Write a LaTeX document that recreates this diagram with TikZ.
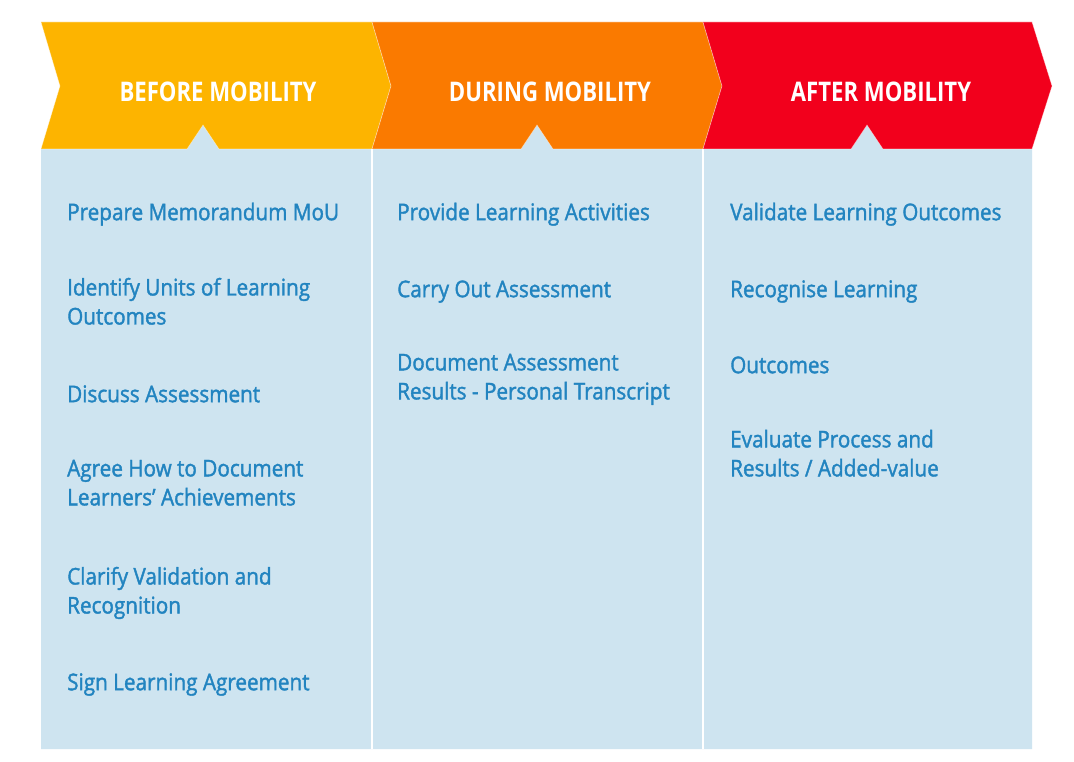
\documentclass[tikz,border=0pt]{standalone}
\usepackage{fontspec}
\setmainfont{Open Sans}[FakeStretch=0.9,FakeBold=1.6]
\newfontfamily\headfont{Open Sans}[FakeStretch=0.82]

\definecolor{beforecol}{HTML}{FDB400}
\definecolor{duringcol}{HTML}{FA7A00}
\definecolor{aftercol}{HTML}{F2001C}
\definecolor{bodycol}{HTML}{CEE4F0}
\definecolor{itemcol}{HTML}{2284C0}

\tikzset{
  banner/.style={draw=white, draw opacity=0.45, line width=0.6pt},
  heading/.style={anchor=base, inner sep=0pt, text=white,
    font=\headfont\bfseries\fontsize{27}{30}\selectfont},
  item/.style={anchor=north west, align=left, inner sep=0pt, text=itemcol,
    font=\fontsize{23}{29}\selectfont, execute at begin node=\strut},
}

\begin{document}
\begin{tikzpicture}[%
      x=1pt, y=-1pt,
      ]
      \useasboundingbox (0,0) rectangle (1074,762);
      \fill [white] (0,0) rectangle (1074,762);

      % body of the three columns, with the notches under the banners
      \fill [bodycol] (41,149) -- (187,149) -- (203,125) -- (219,149)
        -- (521,149) -- (537,125) -- (553,149)
        -- (851,149) -- (867,125) -- (883,149)
        -- (1032,149) -- (1032,749) -- (41,749) -- cycle;
      \draw [white, line width=1.5pt] (372,149) -- (372,749);
      \draw [white, line width=1.5pt] (703,149) -- (703,749);

      % banners
      \filldraw [banner, fill=beforecol] (41,22) -- (372,22) -- (391,86) -- (372,149)
        -- (219,149) -- (203,125) -- (187,149) -- (41,149) -- (60,86) -- cycle;
      \filldraw [banner, fill=duringcol] (372,22) -- (703,22) -- (722,86) -- (703,149)
        -- (553,149) -- (537,125) -- (521,149) -- (372,149) -- (391,86) -- cycle;
      \filldraw [banner, fill=aftercol] (703,22) -- (1032,22) -- (1052,86) -- (1032,149)
        -- (883,149) -- (867,125) -- (851,149) -- (703,149) -- (722,86) -- cycle;

      \node [heading] (before) at (218,102) {BEFORE MOBILITY};
      \node [heading] (during) at (550,102) {DURING MOBILITY};
      \node [heading] (after)  at (881,102) {AFTER MOBILITY};

      % before mobility
      \node [item] (mou)      at (67,199.7) {Prepare Memorandum MoU};
      \node [item] (units)    at (67,277.7) {Identify Units of Learning\\Outcomes};
      \node [item] (discuss)  at (67,381.7) {Discuss Assessment};
      \node [item] (agree)    at (67,459.7) {Agree How to Document\\Learners’ Achievements};
      \node [item] (clarify)  at (67,566.7) {Clarify Validation and\\Recognition};
      \node [item] (sign)     at (67,669.7) {Sign Learning Agreement};

      % during mobility
      \node [item] (provide)  at (397,199.7) {Provide Learning Activities};
      \node [item] (carry)    at (397,276.7) {Carry Out Assessment};
      \node [item] (document) at (397,353.7) {Document Assessment\\Results - Personal Transcript};

      % after mobility
      \node [item] (validate) at (730,199.7) {Validate Learning Outcomes};
      \node [item] (recog)    at (730,276.7) {Recognise Learning};
      \node [item] (outcomes) at (730,352.7) {Outcomes};
      \node [item] (evaluate) at (730,429.7) {Evaluate Process and\\Results / Added-value};
\end{tikzpicture}
\end{document}
